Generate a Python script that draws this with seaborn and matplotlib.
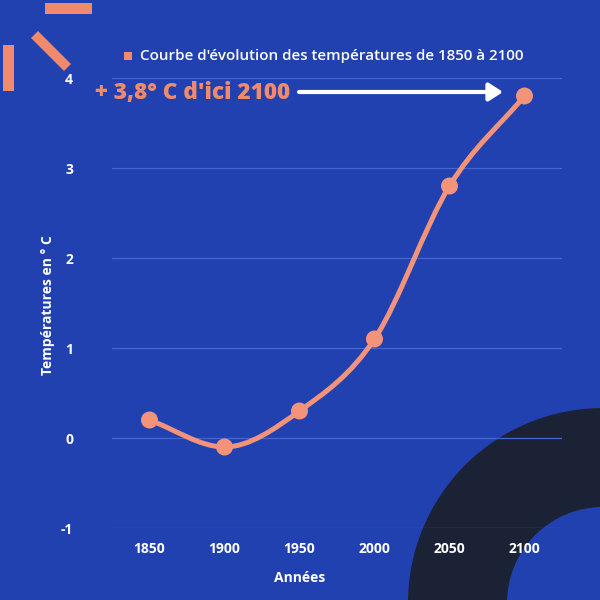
import numpy as np
import pandas as pd
import matplotlib
matplotlib.use("Agg")
import matplotlib.pyplot as plt
import seaborn as sns
from matplotlib.path import Path
from matplotlib.patches import PathPatch, Wedge, Rectangle, Polygon

years = ["1850", "1900", "1950", "2000", "2050", "2100"]
temps = [0.2, -0.1, 0.3, 1.1, 2.8, 3.8]
yticks = [-1, 0, 1, 2, 3, 4]
legend_label = "Courbe d'évolution des températures de 1850 à 2100"
annot_text = "+ 3,8° C d'ici 2100"
xlabel = "Années"
ylabel = "Températures en ° C"

BG = "#2141B1"
SALMON = "#F08A6A"
LINE = "#F2937A"
DARK = "#1B2236"
GRID = "#4566CC"

sns.set_theme(style="white")
plt.rcParams["font.family"] = ["Open Sans", "DejaVu Sans"]

fig = plt.figure(figsize=(6, 6), dpi=100)
fig.patch.set_facecolor(BG)

# background decoration axes in pixel coordinates
bg = fig.add_axes([0, 0, 1, 1], zorder=0)
bg.set_xlim(0, 600)
bg.set_ylim(600, 0)
bg.axis("off")
bg.add_patch(Wedge((603, 603), 195, 0, 360, width=99, facecolor=DARK, edgecolor="none"))
bg.add_patch(Rectangle((45, 3), 47, 11, facecolor=SALMON, edgecolor="none"))
bg.add_patch(Rectangle((3, 45), 11, 46, facecolor=SALMON, edgecolor="none"))
bg.add_patch(Polygon([(31, 38), (38, 31), (71, 64), (64, 71)], closed=True,
                     facecolor=SALMON, edgecolor="none"))

ax = fig.add_axes([112 / 600, 1 - 528 / 600, 450 / 600, 450 / 600], zorder=1)
ax.set_facecolor("none")
df = pd.DataFrame({"year": years, "temp": temps})
xs = np.arange(len(years))
df["x"] = xs

ax.set_xlim(-0.5, len(years) - 0.5)
ax.set_ylim(-1, 4)

# monotone cubic curve (Chart.js "monotone" style) through the points
X = df["x"].values.astype(float)
Y = df["temp"].values.astype(float)
n = len(X)
dx = np.diff(X)
delta = np.diff(Y) / dx
m = np.zeros(n)
m[0] = delta[0]
m[-1] = delta[-1]
for i in range(1, n - 1):
    if delta[i - 1] * delta[i] > 0:
        m[i] = (delta[i - 1] + delta[i]) / 2
    else:
        m[i] = 0.0
for i in range(n - 1):
    if delta[i] == 0:
        m[i] = m[i + 1] = 0
        continue
    a = m[i] / delta[i]
    b = m[i + 1] / delta[i]
    s = a * a + b * b
    if s > 9:
        tau = 3 / np.sqrt(s)
        m[i] = tau * a * delta[i]
        m[i + 1] = tau * b * delta[i]
verts = [(X[0], Y[0])]
codes = [Path.MOVETO]
for i in range(n - 1):
    h = dx[i] / 3
    verts += [(X[i] + h, Y[i] + m[i] * h), (X[i + 1] - h, Y[i + 1] - m[i + 1] * h),
              (X[i + 1], Y[i + 1])]
    codes += [Path.CURVE4] * 3
ax.add_patch(PathPatch(Path(verts, codes), facecolor="none", edgecolor=LINE,
                       lw=3.6, capstyle="round", zorder=3))

sns.scatterplot(data=df, x="x", y="temp", ax=ax, s=150, color=LINE,
                edgecolor="none", zorder=4, legend=False)

ax.set_yticks(yticks)
ax.set_yticklabels([str(v) for v in yticks])
ax.set_xticks(xs)
ax.set_xticklabels(years)
ax.grid(axis="y", color=GRID, lw=0.9)
ax.grid(axis="x", visible=False)
for s in ax.spines.values():
    s.set_visible(False)
ax.tick_params(axis="both", length=0, colors="white")
for lab in ax.get_xticklabels() + ax.get_yticklabels():
    lab.set_fontweight("bold")
    lab.set_fontsize(10)
    lab.set_color("white")
ax.tick_params(axis="y", pad=28)
ax.tick_params(axis="x", pad=10)
ax.set_xlabel("")
ax.set_ylabel("")

fig.text(300 / 600, 1 - 578 / 600, xlabel, ha="center", va="center",
         color="white", fontsize=10, fontweight="bold")
fig.text(48 / 600, 1 - 305 / 600, ylabel, ha="center", va="center",
         rotation=90, color="white", fontsize=10, fontweight="bold")

# legend
fig.patches.append(Rectangle((124 / 600, 1 - 60 / 600), 8 / 600, 8 / 600,
                             transform=fig.transFigure, facecolor=SALMON,
                             edgecolor="none"))
fig.text(140 / 600, 1 - 56 / 600, legend_label, ha="left", va="center",
         color="white", fontsize=10.9, fontweight="semibold")

# annotation
fig.text(95 / 600, 1 - 93 / 600, annot_text, ha="left", va="center",
         color=SALMON, fontsize=16.3, fontweight="heavy")
bg.annotate("", xy=(503, 92), xytext=(299, 92),
            arrowprops=dict(arrowstyle="-|>,head_length=0.7,head_width=0.45",
                            color="white", lw=3, shrinkA=0, shrinkB=0))

fig.savefig("out.png", dpi=100, facecolor=BG)
